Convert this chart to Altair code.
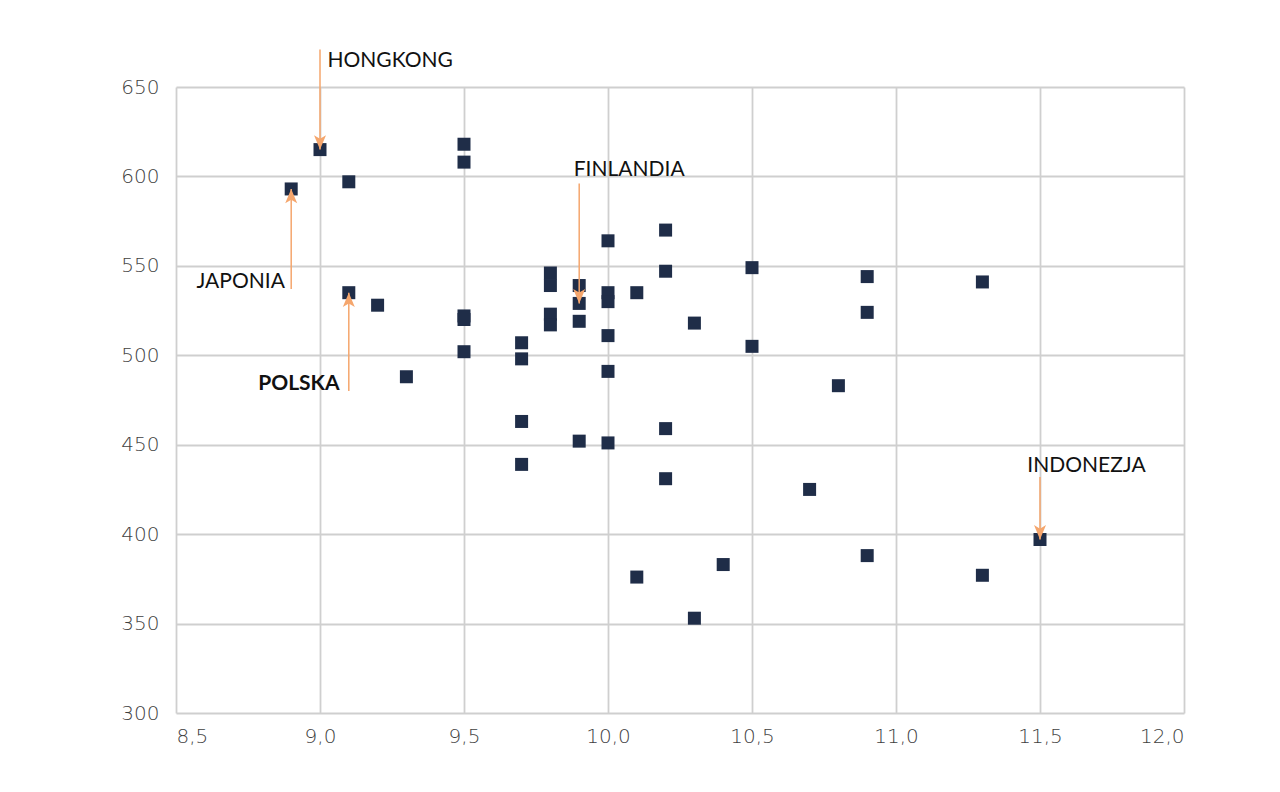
import altair as alt
import pandas as pd

# scatter data (x: value, y: score)
xs = [9.0, 8.9, 9.1, 9.5, 9.5, 9.1, 9.2, 9.3, 9.5, 9.5, 9.5,
      9.7, 9.7, 9.7, 9.7,
      9.8, 9.8, 9.8, 9.8,
      9.9, 9.9, 9.9, 9.9,
      10.0, 10.0, 10.0, 10.0, 10.0, 10.0,
      10.1, 10.1,
      10.2, 10.2, 10.2, 10.2,
      10.3, 10.3, 10.4, 10.5, 10.5, 10.7, 10.8,
      10.9, 10.9, 10.9, 11.3, 11.3, 11.5]
ys = [615, 593, 597, 618, 608, 535, 528, 488, 522, 520, 502,
      507, 498, 463, 439,
      546, 539, 523, 517,
      539, 529, 519, 452,
      564, 535, 530, 511, 491, 451,
      535, 376,
      570, 547, 459, 431,
      518, 353, 383, 549, 505, 425, 483,
      544, 524, 388, 541, 377, 397]

# annotations
ann_labels = ["HONGKONG", "JAPONIA", "POLSKA", "FINLANDIA", "INDONEZJA"]
ann_x = [9.0, 8.9, 9.1, 9.9, 11.5]          # arrow x
ann_head = [615, 593, 535, 529, 397]        # arrow tip (the country point)
ann_tail = [671, 537, 480, 596, 432]        # arrow tail
ann_text_x = [9.026, 8.878, 9.068, 9.881, 11.456]
ann_text_y = [664.5, 541, 484, 603.5, 438]
ann_align = ["left", "right", "right", "left", "left"]
ann_bold = [False, False, True, False, False]

pts = pd.DataFrame({"x": xs, "y": ys})
ann = pd.DataFrame({
    "label": ann_labels, "ax": ann_x, "head": ann_head, "tail": ann_tail,
    "tx": ann_text_x, "ty": ann_text_y, "align": ann_align, "bold": ann_bold,
})
ann["dir"] = ["down" if t > h else "up" for t, h in zip(ann["tail"], ann["head"])]

NAVY = "#1f2d48"
ORANGE = "#f5a66d"
GRID = "#cfcfcf"

xscale = alt.Scale(domain=[8.5, 12.0], nice=False, zero=False)
yscale = alt.Scale(domain=[300, 650], nice=False, zero=False)

xaxis = alt.Axis(values=[8.5, 9.0, 9.5, 10.0, 10.5, 11.0, 11.5, 12.0],
                 labelExpr="replace(format(datum.value, '.1f'), '.', ',')",
                 title=None, domain=False, ticks=False, grid=True,
                 gridColor=GRID, gridWidth=1.8, labelPadding=13,
                 labelFont="DejaVu Sans", labelFontSize=20, labelFontWeight=200,
                 labelColor="#3f3f3f")
yaxis = alt.Axis(values=[300, 350, 400, 450, 500, 550, 600, 650],
                 title=None, domain=False, ticks=False, grid=True,
                 gridColor=GRID, gridWidth=1.8, labelPadding=17,
                 labelFont="DejaVu Sans", labelFontSize=20, labelFontWeight=200,
                 labelColor="#3f3f3f")

points = alt.Chart(pts).mark_square(size=169, color=NAVY, opacity=1).encode(
    x=alt.X("x:Q", scale=xscale, axis=xaxis),
    y=alt.Y("y:Q", scale=yscale, axis=yaxis),
)

base = alt.Chart(ann)

lines = base.mark_rule(color=ORANGE, strokeWidth=1.5).encode(
    x=alt.X("ax:Q", scale=xscale),
    y=alt.Y("tail:Q", scale=yscale),
    y2="head:Q",
)

path_down = "M0,0 L-1,-2.4 L0,-1.8 L1,-2.4 Z"
path_up = "M0,0 L-1,2.4 L0,1.8 L1,2.4 Z"
heads = base.mark_point(filled=True, color=ORANGE, opacity=1, size=144, strokeWidth=0).encode(
    x=alt.X("ax:Q", scale=xscale),
    y=alt.Y("head:Q", scale=yscale),
    shape=alt.Shape("dir:N", scale=alt.Scale(domain=["down", "up"], range=[path_down, path_up]), legend=None),
)

def text_layer(align, bold):
    return base.transform_filter(
        f"datum.align == '{align}' && datum.bold == {'true' if bold else 'false'}"
    ).mark_text(align=align, baseline="middle", font="Lato", fontSize=21,
                fontWeight="bold" if bold else "normal", color="#111111").encode(
        x=alt.X("tx:Q", scale=xscale),
        y=alt.Y("ty:Q", scale=yscale),
        text="label:N",
    )

texts = [text_layer("left", False), text_layer("right", False), text_layer("right", True)]

chart = alt.layer(points, lines, heads, *texts).properties(
    width=1008, height=626,
    autosize=alt.AutoSizeParams(type="none"),
    padding={"left": 168, "top": 79, "right": 80, "bottom": 60},
    background="white",
).configure_view(stroke=None)

chart.save("out.html", embed_options={"renderer": "svg", "actions": False})
